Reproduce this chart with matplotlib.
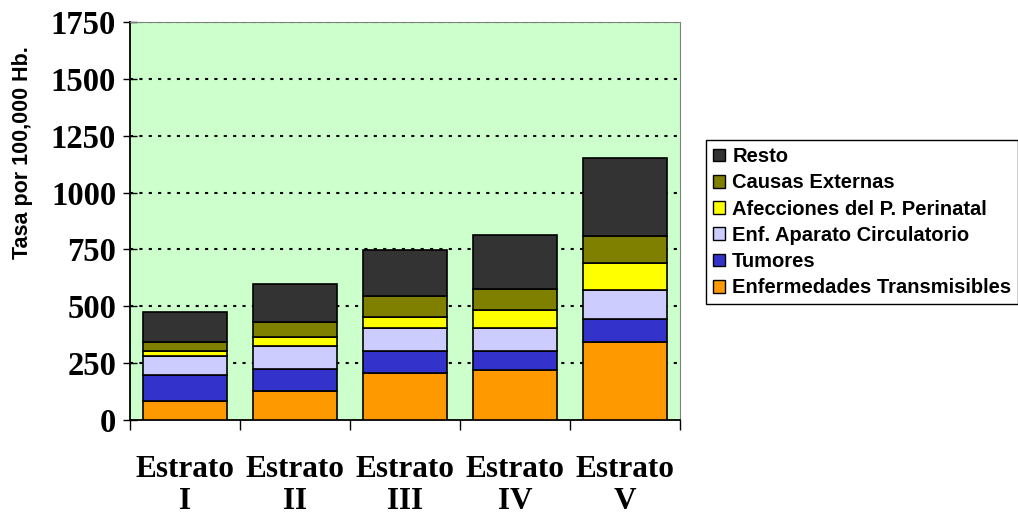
# stacked mortality rates by stratum
import matplotlib.pyplot as plt
from matplotlib.patches import Patch
import numpy as np

estratos = ['Estrato\nI', 'Estrato\nII', 'Estrato\nIII', 'Estrato\nIV', 'Estrato\nV']

# rates per 100,000 inhabitants, one list per cause (bottom to top)
transmisibles = [83, 128, 206, 222, 341]
tumores = [113, 97, 97, 81, 103]
circulatorio = [84, 100, 101, 101, 128]
perinatal = [22, 38, 49, 80, 119]
externas = [41, 69, 91, 94, 118]
resto = [131, 165, 205, 237, 345]

series = [
    ('Enfermedades Transmisibles', transmisibles, '#FF9900'),
    ('Tumores', tumores, '#3333CC'),
    ('Enf. Aparato Circulatorio', circulatorio, '#CCCCFF'),
    ('Afecciones del P. Perinatal', perinatal, '#FFFF00'),
    ('Causas Externas', externas, '#808000'),
    ('Resto', resto, '#333333'),
]

serif = ['Liberation Serif', 'DejaVu Serif']
sans = ['Liberation Sans', 'DejaVu Sans']

fig = plt.figure(figsize=(10.18, 5.14), dpi=100)
ax = fig.add_axes([130/1018, 94/514, 550/1018, 398/514])
ax.set_facecolor('#CCFFCC')

x = np.arange(len(estratos))
bottom = np.zeros(len(estratos))
for name, vals, col in series:
    ax.bar(x, vals, width=0.77, bottom=bottom, color=col,
           edgecolor='black', linewidth=1.2, zorder=3)
    bottom += np.array(vals)

ax.set_xlim(-0.5, 4.5)
ax.set_ylim(0, 1750)

# y axis
yt = np.arange(0, 1751, 250)
ax.set_yticks(yt)
ax.set_yticklabels([str(v) for v in yt], fontfamily=serif, fontweight='bold', fontsize=23.5)
for v in yt[1:]:
    ax.axhline(v, color='black', linestyle=(0, (1.5, 3)), linewidth=1.5, zorder=1)
ax.tick_params(axis='y', direction='inout', length=10, width=1, pad=5)
fig.text(23/1018, 1 - 153/514, 'Tasa por 100,000 Hb.', rotation=90,
         ha='center', va='center', fontfamily=sans, fontweight='bold', fontsize=15.5)

# x axis: labels at centres, tick marks at category boundaries
ax.set_xticks(x)
ax.set_xticklabels(estratos, fontfamily=serif, fontweight='bold', fontsize=22.5,
                   linespacing=1.15)
ax.tick_params(axis='x', which='major', length=0, pad=25)
ax.set_xticks(np.arange(-0.5, 5, 1), minor=True)
ax.tick_params(axis='x', which='minor', direction='out', length=7, width=1)

for side in ['top', 'right']:
    ax.spines[side].set_color('#808080')
for side in ['left', 'bottom']:
    ax.spines[side].set_color('black')
    ax.spines[side].set_linewidth(1.3)

handles = [Patch(facecolor=col, edgecolor='black', linewidth=1, label=name)
           for name, vals, col in series][::-1]
leg = fig.legend(handles=handles, loc='upper left', bbox_to_anchor=(706/1018, 1 - 140/514),
                 frameon=True, fancybox=False, edgecolor='black', framealpha=1,
                 prop={'family': sans, 'weight': 'bold', 'size': 14.5},
                 handlelength=0.6, handleheight=0.6, handletextpad=0.35,
                 labelspacing=0.36, borderpad=0.35, borderaxespad=0)
leg.get_frame().set_linewidth(1)

fig.savefig('out.png', dpi=100)
